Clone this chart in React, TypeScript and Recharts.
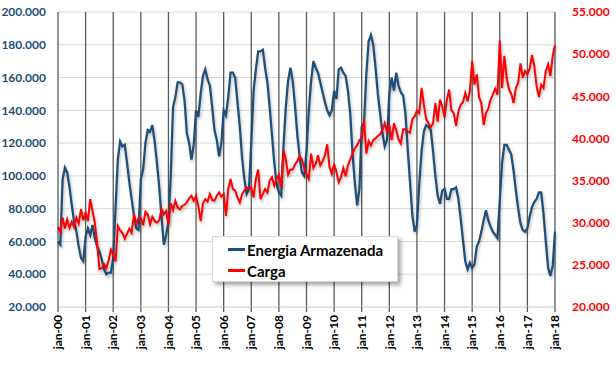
import { LineChart, Line, XAxis, YAxis, CartesianGrid } from 'recharts';

// meses e anos do eixo X
const meses = ['jan', 'fev', 'mar', 'abr', 'mai', 'jun', 'jul', 'ago', 'set', 'out', 'nov', 'dez'];
const anos = ['00', '01', '02', '03', '04', '05', '06', '07', '08', '09', '10', '11', '12', '13', '14', '15', '16', '17', '18'];

// Energia Armazenada (mil), eixo esquerdo - jan-00 a jan-18
const energiaArmazenada = [
   60, 58, 98, 105, 102, 93, 82, 72, 66, 57, 50, 48,
   63, 68, 64, 70, 62, 57, 54, 49, 43, 40, 41, 41,
   50, 80, 110, 121, 118, 119, 108, 96, 86, 76, 68, 67,
   98, 104, 120, 128, 127, 131, 121, 108, 93, 75, 58, 64,
   72, 100, 142, 148, 157, 157, 156, 146, 126, 120, 110, 119,
   140, 136, 150, 161, 165, 159, 155, 142, 128, 122, 112, 120,
   140, 137, 148, 163, 163, 160, 145, 130, 111, 98, 89, 92,
   120, 152, 165, 176, 176, 177, 166, 157, 142, 125, 108, 95,
   90, 88, 118, 142, 158, 166, 158, 143, 125, 112, 102, 100,
   115, 140, 158, 170, 166, 163, 157, 151, 145, 140, 137, 140,
   152, 147, 165, 166, 163, 161, 152, 138, 114, 96, 82, 92,
   130, 132, 162, 182, 186, 180, 166, 150, 138, 126, 118, 122,
   150, 160, 152, 163, 155, 151, 149, 138, 116, 96, 76, 66,
   70, 95, 115, 127, 131, 130, 128, 115, 100, 88, 83, 91,
   92, 86, 86, 92, 92, 93, 86, 74, 61, 48, 43, 47,
   44, 46, 57, 60, 66, 73, 79, 73, 69, 66, 64, 62,
   85, 108, 119, 119, 116, 113, 103, 91, 80, 71, 67, 66,
   68, 75, 81, 84, 86, 90, 90, 77, 60, 44, 39, 45,
   66,
];

// Carga (mil), eixo direito
const carga = [
   29.5, 28.9, 30.6, 29.3, 30.4, 29.4, 30.1, 29.5, 30.6, 29.9, 31.6, 30.3,
   31.2, 30.2, 32.8, 31.4, 30.0, 27.5, 24.5, 24.6, 25.1, 24.6, 25.5, 26.8,
   26.2, 25.4, 29.6, 29.1, 28.8, 28.1, 28.7, 29.3, 28.8, 31.0, 29.9, 30.5,
   30.5, 29.7, 31.3, 31.0, 29.8, 30.7, 30.2, 30.0, 30.3, 31.6, 31.0, 31.4,
   29.7, 32.3, 31.5, 32.6, 31.8, 31.6, 32.0, 32.1, 32.4, 32.9, 33.2, 32.6,
   33.2, 32.0, 30.2, 32.3, 32.8, 32.5, 33.4, 32.7, 32.6, 33.2, 33.6, 33.1,
   33.4, 30.8, 34.0, 35.2, 34.0, 33.8, 33.0, 32.4, 33.4, 33.8, 34.2, 34.0,
   34.2, 33.0, 35.2, 36.3, 32.8, 33.4, 34.0, 33.6, 35.0, 35.4, 34.4, 35.2,
   35.7, 34.2, 38.6, 37.5, 35.7, 36.3, 36.3, 36.9, 37.3, 37.9, 37.5, 36.5,
   35.8, 35.2, 38.2, 36.5, 37.0, 38.0, 36.8, 37.3, 38.0, 39.3, 36.6, 35.8,
   37.0, 36.0, 34.8, 35.4, 36.5, 35.5, 36.8, 37.5, 38.2, 38.8, 39.2, 39.8,
   40.0, 42.2, 38.2, 39.7, 39.2, 39.8, 40.0, 40.3, 40.5, 41.0, 41.8, 40.8,
   41.6, 39.8, 41.8, 41.0, 39.9, 39.4, 41.1, 41.1, 40.8, 40.7, 42.3, 42.6,
   43.3, 43.0, 46.0, 44.0, 42.3, 41.8, 41.3, 41.8, 44.2, 42.0, 44.6, 43.8,
   42.5, 44.6, 45.8, 43.3, 43.0, 41.5, 43.2, 44.0, 44.3, 45.4, 44.4, 45.6,
   49.2, 46.4, 47.6, 44.9, 44.2, 41.6, 43.0, 43.5, 44.6, 45.2, 45.9, 45.2,
   51.6, 46.0, 49.8, 47.2, 45.8, 45.3, 44.2, 46.0, 46.6, 48.9, 47.2, 48.0,
   47.6, 48.3, 49.9, 48.6, 46.2, 44.9, 46.4, 46.0, 48.0, 48.8, 47.4, 49.8,
   51.1,
];

const ticksEsquerda = [20, 40, 60, 80, 100, 120, 140, 160, 180, 200];
const ticksDireita = [20, 25, 30, 35, 40, 45, 50, 55];

const categorias = anos.flatMap((ano, i) =>
   i < anos.length - 1 ? meses.map((m) => `${m}-${ano}`) : [`jan-${ano}`]
);
const dados = categorias.map((mes, i) => ({
   mes,
   energia: energiaArmazenada[i],
   carga: carga[i],
}));
const ticksX = categorias.filter((c) => c.startsWith('jan'));

const AZUL = '#1F4E79';
const VERMELHO = '#FF0000';
const FONTE = 'Lato, "Liberation Sans", sans-serif';

const formataMil = (v: number) => `${v}.000`;

function TickMes({ x, y, payload }: any) {
   return (
      <text
         x={x}
         y={y}
         transform={`rotate(-90, ${x}, ${y})`}
         textAnchor="end"
         dx={-3}
         dy="0.35em"
         fontSize={12}
         fontWeight={700}
         fontFamily={FONTE}
         fill="#000"
      >
         {payload.value}
      </text>
   );
}

export default function App() {
   return (
      <div style={{ position: 'absolute', left: 0, top: 0, width: 616, height: 384, background: '#fff' }}>
         <style>{`.recharts-line-curve { filter: drop-shadow(1.5px 2px 1.5px rgba(0,0,0,0.28)); }`}</style>
         <LineChart width={616} height={384} data={dados} margin={{ top: 12, right: 0, left: 0, bottom: 0 }}>
            <CartesianGrid vertical={false} stroke="#d9d9d9" />
            <CartesianGrid horizontal={false} stroke="#595959" strokeWidth={1.3} />
            <XAxis
               dataKey="mes"
               ticks={ticksX}
               interval={0}
               height={77}
               tickSize={5}
               tickMargin={0}
               tickLine={{ stroke: '#595959', strokeWidth: 1.3 }}
               axisLine={{ stroke: '#d9d9d9' }}
               tick={<TickMes />}
            />
            <YAxis
               domain={[20, 200]}
               ticks={ticksEsquerda}
               width={58}
               axisLine={false}
               tickLine={false}
               tickSize={0}
               tickMargin={12}
               tickFormatter={formataMil}
               tick={{ fill: AZUL, fontSize: 12, fontWeight: 700, fontFamily: FONTE }}
            />
            <YAxis
               yAxisId="dir"
               orientation="right"
               domain={[20, 55]}
               ticks={ticksDireita}
               width={61}
               axisLine={false}
               tickLine={false}
               tickSize={0}
               tickMargin={17}
               tickFormatter={formataMil}
               tick={{ fill: VERMELHO, fontSize: 12, fontWeight: 700, fontFamily: FONTE }}
            />
            <Line
               dataKey="energia"
               name="Energia Armazenada"
               stroke={AZUL}
               strokeWidth={2.25}
               dot={false}
               isAnimationActive={false}
            />
            <Line
               dataKey="carga"
               name="Carga"
               yAxisId="dir"
               stroke={VERMELHO}
               strokeWidth={2}
               dot={false}
               isAnimationActive={false}
            />
         </LineChart>
         <div
            style={{
               position: 'absolute',
               left: 212,
               top: 236,
               width: 186,
               height: 46,
               background: '#fff',
               border: '1px solid #d9d9d9',
               boxShadow: '3px 3px 4px rgba(0,0,0,0.35)',
               fontFamily: FONTE,
               fontWeight: 700,
               fontSize: 15,
               color: '#000',
               boxSizing: 'border-box',
               paddingLeft: 15,
               paddingTop: 2,
            }}
         >
            {[
               { nome: 'Energia Armazenada', cor: AZUL },
               { nome: 'Carga', cor: VERMELHO },
            ].map((item) => (
               <div key={item.nome} style={{ display: 'flex', alignItems: 'center', height: 21 }}>
                  <span style={{ display: 'inline-block', width: 17, height: 2.5, background: item.cor, marginRight: 2 }} />
                  <span>{item.nome}</span>
               </div>
            ))}
         </div>
      </div>
   );
}
